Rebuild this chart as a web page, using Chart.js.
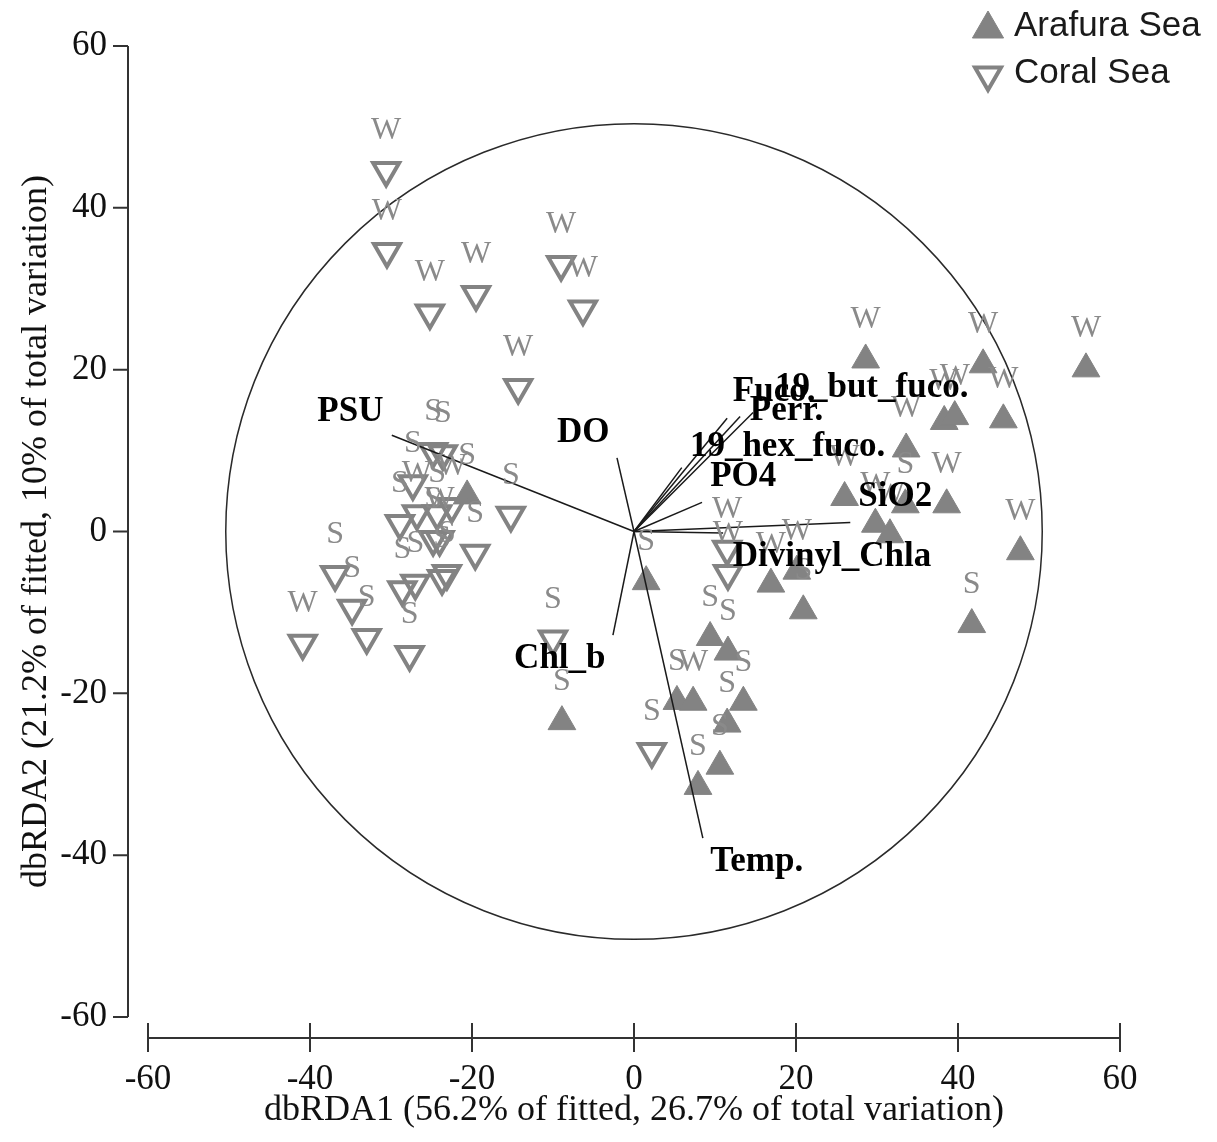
<!DOCTYPE html>
<html>
<head>
<meta charset="utf-8">
<script src="https://cdn.jsdelivr.net/npm/chart.js@4.4.0/dist/chart.umd.min.js"></script>
<style>
  html, body { margin: 0; padding: 0; background: #fff; }
  #wrap { width: 1217px; height: 1142px; position: relative; }
</style>
</head>
<body>
<div id="wrap"><canvas id="myChart"></canvas></div>
<script>
// axis ticks
var tickValues = [-60, -40, -20, 0, 20, 40, 60];

// Arafura Sea samples (filled triangles)
var arafuraX = [28.6, 43.1, 55.8, 38.3, 39.6, 45.6, 33.6, 38.6, 33.5, 26.0, 29.8, 31.6, 47.7, 41.7,
                20.1, 16.9, 20.9, 1.5, 9.4, 11.6, 5.3, 7.3, 13.5, 11.5, 10.6, 7.9, -8.9, -20.6];
var arafuraY = [21.2, 20.6, 20.1, 13.6, 14.2, 13.8, 10.2, 3.3, 3.3, 4.2, 0.9, -0.4, -2.5, -11.5,
                -4.9, -6.5, -9.8, -6.2, -13.1, -14.9, -21.0, -21.1, -21.1, -23.8, -29.0, -31.5, -23.5, 4.4];
var arafuraSeason = ['W', 'W', 'W', 'W', 'W', 'W', 'W', 'W', 'S', 'W', 'W', 'W', 'W', 'S',
                     'W', 'W', 'S', 'S', 'S', 'S', 'S', 'W', 'S', 'S', 'S', 'S', 'S', 'S'];

// Coral Sea samples (open triangles)
var coralX = [-30.6, -30.5, -25.2, -19.5, -9.0, -6.3, -14.3, -15.2, -19.6, -23.1, -23.7, -27.0, -28.6,
              -36.9, -34.8, -33.0, -40.9, -27.7, -10.0, 2.2, 11.5, 11.6,
              -23.6, -24.8, -27.3, -26.8, -24.3, -22.5, -28.9, -24.8, -24.0];
var coralY = [44.6, 34.6, 27.0, 29.3, 33.0, 27.5, 17.8, 2.0, -2.7, -5.2, -5.8, -6.4, -7.2,
              -5.3, -9.5, -13.1, -13.8, -15.2, -13.3, -27.2, -2.2, -5.2,
              9.6, 9.9, 5.9, 2.2, 2.2, 3.1, 1.0, -1.0, -1.0];
var coralSeason = ['W', 'W', 'W', 'W', 'W', 'W', 'W', 'S', 'S', 'S', 'S', 'S', 'S',
                   'S', 'S', 'S', 'W', 'S', 'S', 'S', 'W', 'W',
                   'S', 'S', 'S', 'W', 'S', 'W', 'S', 'S', 'W'];

// biplot vectors (end points) and where their names sit
var vectorNames = ['PSU', 'DO', 'Chl_b', 'Temp.', 'Fuco.', '19_but_fuco.', 'Perr.',
                   '19_hex_fuco.', 'PO4', 'SiO2', 'Divinyl_Chla'];
var vectorX = [-29.9, -2.1, -2.6, 8.5, 11.5, 13.1, 14.7, 5.9, 8.4, 26.7, 11.0];
var vectorY = [11.9, 9.1, -12.8, -37.9, 14.0, 14.2, 14.7, 7.9, 3.6, 1.1, -0.2];
var vectorLabelX = [-39.1, -9.5, -14.8, 9.4, 12.2, 17.4, 14.3, 6.9, 9.4, 27.7, 12.2];
var vectorLabelY = [14.8, 12.2, -15.7, -40.9, 17.2, 17.7, 14.9, 10.5, 6.7, 4.3, -3.1];

var circleRadius = 50.4;

var grey = '#838383';
var serif = '"Liberation Serif", "Times New Roman", serif';

function pts(xs, ys) {
    var out = [];
    for (var i = 0; i < xs.length; i++) out.push({x: xs[i], y: ys[i]});
    return out;
}

var datasets = [];
datasets.push({
    label: 'Arafura Sea',
    type: 'scatter',
    data: pts(arafuraX, arafuraY),
    season: arafuraSeason,
    pointStyle: 'triangle',
    pointRadius: 16,
    backgroundColor: grey,
    borderColor: grey,
    borderWidth: 1,
    order: 2
});
datasets.push({
    label: 'Coral Sea',
    type: 'scatter',
    data: pts(coralX, coralY),
    season: coralSeason,
    pointStyle: 'triangle',
    pointRotation: 180,
    pointRadius: 15,
    backgroundColor: 'rgba(0,0,0,0)',
    borderColor: grey,
    borderWidth: 4,
    order: 1
});
for (var i = 0; i < vectorNames.length; i++) {
    datasets.push({
        label: vectorNames[i],
        type: 'line',
        data: [{x: 0, y: 0}, {x: vectorX[i], y: vectorY[i]}],
        borderColor: '#1a1a1a',
        borderWidth: 1.5,
        pointRadius: 0,
        fill: false,
        order: 0
    });
}

// circle, axis lines, sample labels, vector labels, legend
var extras = {
    id: 'extras',
    beforeDatasetsDraw: function(chart) {
        var ctx = chart.ctx, xs = chart.scales.x, ys = chart.scales.y;
        var cx = xs.getPixelForValue(0), cy = ys.getPixelForValue(0);
        var rx = xs.getPixelForValue(circleRadius) - cx;
        var ry = cy - ys.getPixelForValue(circleRadius);
        ctx.save();
        ctx.beginPath();
        ctx.ellipse(cx, cy, rx, ry, 0, 0, Math.PI * 2);
        ctx.strokeStyle = '#2a2a2a';
        ctx.lineWidth = 1.5;
        ctx.stroke();
        ctx.restore();
    },
    afterDatasetsDraw: function(chart) {
        var ctx = chart.ctx, xs = chart.scales.x, ys = chart.scales.y;
        var area = chart.chartArea;
        ctx.save();

        // sample labels W / S above each marker
        ctx.font = '32px ' + serif;
        ctx.fillStyle = '#8a8a8a';
        ctx.textAlign = 'center';
        ctx.textBaseline = 'middle';
        [0, 1].forEach(function(di) {
            var ds = chart.data.datasets[di];
            var meta = chart.getDatasetMeta(di);
            meta.data.forEach(function(el, j) {
                ctx.fillText(ds.season[j], el.x, el.y - 40);
            });
        });

        // vector labels
        ctx.font = 'bold 35px ' + serif;
        ctx.fillStyle = '#000';
        ctx.textAlign = 'left';
        for (var k = 0; k < vectorNames.length; k++) {
            ctx.fillText(vectorNames[k], xs.getPixelForValue(vectorLabelX[k]), ys.getPixelForValue(vectorLabelY[k]));
        }

        // offset axis lines with tick marks
        ctx.strokeStyle = '#333';
        ctx.lineWidth = 2;
        var axX = area.left - 20;
        var axY = area.bottom + 21;
        ctx.beginPath();
        ctx.moveTo(axX, ys.getPixelForValue(60));
        ctx.lineTo(axX, ys.getPixelForValue(-60));
        tickValues.forEach(function(v) {
            var p = ys.getPixelForValue(v);
            ctx.moveTo(axX - 15, p);
            ctx.lineTo(axX, p);
        });
        ctx.moveTo(xs.getPixelForValue(-60), axY);
        ctx.lineTo(xs.getPixelForValue(60), axY);
        tickValues.forEach(function(v) {
            var p = xs.getPixelForValue(v);
            ctx.moveTo(p, axY - 15);
            ctx.lineTo(p, axY + 14);
        });
        ctx.stroke();

        // legend
        var helpers = Chart.helpers;
        ctx.fillStyle = grey;
        ctx.strokeStyle = grey;
        ctx.lineWidth = 1;
        helpers.drawPoint(ctx, {pointStyle: 'triangle', radius: 18, rotation: 0, borderWidth: 1}, 988, 29);
        ctx.fillStyle = 'rgba(0,0,0,0)';
        ctx.lineWidth = 4;
        helpers.drawPoint(ctx, {pointStyle: 'triangle', radius: 15, rotation: 180, borderWidth: 4}, 988, 75);
        ctx.font = '35px "Liberation Sans", Arial, sans-serif';
        ctx.fillStyle = '#1a1a1a';
        ctx.textAlign = 'left';
        ctx.textBaseline = 'middle';
        ctx.fillText('Arafura Sea', 1014, 26);
        ctx.fillText('Coral Sea', 1014, 73);
        ctx.restore();
    }
};

var ctx = document.getElementById('myChart');
var myChart = new Chart(ctx, {
    type: 'scatter',
    data: { datasets: datasets },
    options: {
        responsive: true,
        maintainAspectRatio: false,
        animation: false,
        events: [],
        layout: { padding: { left: 0, right: 97, top: 46, bottom: 0 } },
        plugins: { legend: { display: false }, tooltip: { enabled: false } },
        scales: {
            x: {
                type: 'linear',
                min: -60, max: 60,
                afterBuildTicks: function(s) { s.ticks = tickValues.map(function(v) { return {value: v}; }); },
                afterFit: function(s) { s.height = 125; s.paddingLeft = 0; s.paddingRight = 0; },
                grid: { display: false, drawTicks: false },
                border: { display: false },
                ticks: { color: '#111', padding: 42, font: { family: serif, size: 35 } },
                title: {
                    display: true,
                    text: 'dbRDA1 (56.2% of fitted, 26.7% of total variation)',
                    color: '#111',
                    font: { family: serif, size: 36 },
                    padding: { top: 0, bottom: 10 }
                }
            },
            y: {
                type: 'linear',
                min: -60, max: 60,
                afterBuildTicks: function(s) { s.ticks = tickValues.map(function(v) { return {value: v}; }); },
                afterFit: function(s) { s.width = 148; s.paddingTop = 0; s.paddingBottom = 0; },
                grid: { display: false, drawTicks: false },
                border: { display: false },
                ticks: { color: '#111', padding: 41, font: { family: serif, size: 35 } },
                title: {
                    display: true,
                    text: 'dbRDA2 (21.2% of fitted, 10% of total variation)',
                    color: '#111',
                    font: { family: serif, size: 36 },
                    padding: { top: 15, bottom: 0 }
                }
            }
        }
    },
    plugins: [extras]
});
</script>
</body>
</html>
